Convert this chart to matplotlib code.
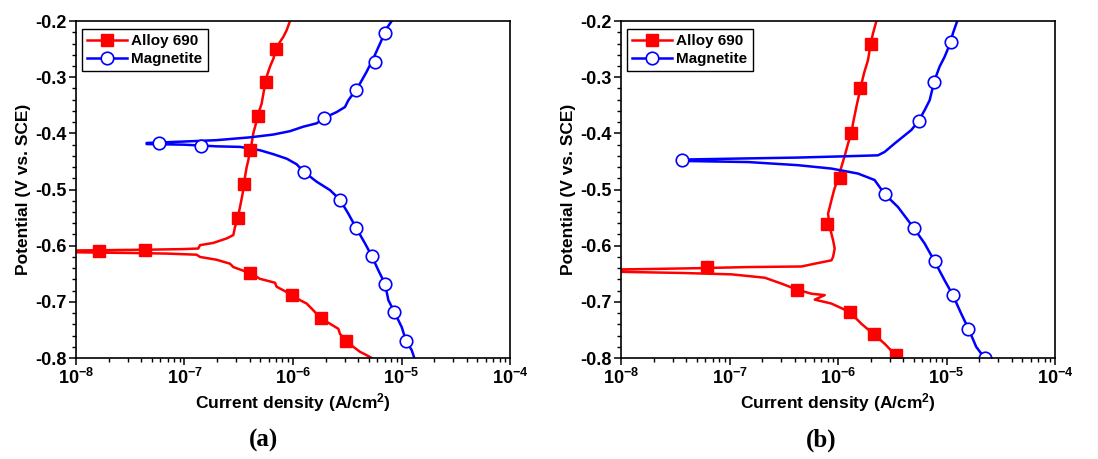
import numpy as np
import matplotlib
matplotlib.use("Agg")
import matplotlib.pyplot as plt
from matplotlib.lines import Line2D
from matplotlib.ticker import MultipleLocator, LogLocator, FixedLocator, FuncFormatter, NullFormatter

plt.rcParams['font.family'] = ['Liberation Sans', 'DejaVu Sans']
plt.rcParams['font.weight'] = 'bold'
plt.rcParams['axes.unicode_minus'] = False
plt.rcParams['mathtext.fontset'] = 'custom'
plt.rcParams['mathtext.rm'] = 'Liberation Sans:bold'
plt.rcParams['mathtext.bf'] = 'Liberation Sans:bold'
plt.rcParams['mathtext.it'] = 'Liberation Sans:bold'

# values: log10(current density, A/cm2) and potential (V vs. SCE)
# ---- panel (a) ----
a_alloy_an_logi = [-6.028, -6.058, -6.089, -6.12, -6.154, -6.181, -6.212, -6.243, -6.273, -6.289,
                   -6.31, -6.32, -6.341, -6.366, -6.381, -6.396, -6.412, -6.427, -6.442, -6.452,
                   -6.464, -6.482, -6.495, -6.507, -6.535, -6.55, -6.611, -6.673, -6.734, -6.857,
                   -6.873, -7.011, -7.318, -7.779, -8.3]
a_alloy_an_E = [-0.2, -0.216, -0.228, -0.237, -0.249, -0.267, -0.281, -0.299, -0.329, -0.347,
                -0.359, -0.369, -0.382, -0.4, -0.418, -0.43, -0.448, -0.46, -0.477, -0.49,
                -0.507, -0.525, -0.537, -0.55, -0.567, -0.581, -0.587, -0.591, -0.595, -0.599,
                -0.605, -0.606, -0.607, -0.608, -0.609]
a_alloy_ca_logi = [-8.3, -7.472, -7.164, -6.888, -6.857, -6.704, -6.581, -6.55, -6.393, -6.304,
                   -6.243, -6.166, -6.151, -6.006, -5.935, -5.874, -5.813, -5.745, -5.659, -5.582,
                   -5.567, -5.512, -5.444, -5.382, -5.321, -5.275]
a_alloy_ca_E = [-0.611, -0.613, -0.614, -0.616, -0.62, -0.625, -0.632, -0.638, -0.649, -0.659,
                -0.662, -0.666, -0.673, -0.688, -0.697, -0.703, -0.715, -0.729, -0.739, -0.748,
                -0.757, -0.769, -0.78, -0.789, -0.795, -0.8]
a_alloy_mk_logi = [-7.785, -7.367, -6.393, -6.006, -5.745, -5.512, -6.507, -6.452, -6.396, -6.32, -6.249, -6.154]
a_alloy_mk_E = [-0.609, -0.608, -0.649, -0.688, -0.729, -0.769, -0.55, -0.49, -0.43, -0.369, -0.309, -0.249]

a_mag_an_logi = [-5.091, -5.137, -5.198, -5.26, -5.321, -5.382, -5.419, -5.49, -5.521, -5.598,
                 -5.659, -5.711, -5.782, -5.905, -6.028, -6.181, -6.396, -6.704, -7.011, -7.349]
a_mag_an_E = [-0.2, -0.213, -0.24, -0.2665, -0.29, -0.311, -0.322, -0.341, -0.353, -0.362,
              -0.3675, -0.372, -0.382, -0.388, -0.396, -0.402, -0.407, -0.412, -0.4145, -0.417]
a_mag_ca_logi = [-7.349, -7.011, -6.704, -6.488, -6.304, -6.181, -6.058, -5.966, -5.899, -5.782,
                 -5.659, -5.567, -5.49, -5.419, -5.336, -5.275, -5.213, -5.152, -5.121, -5.066,
                 -4.998, -4.959, -4.906, -4.882]
a_mag_ca_E = [-0.419, -0.42, -0.423, -0.424, -0.43, -0.437, -0.445, -0.455, -0.4685, -0.486,
              -0.501, -0.518, -0.543, -0.568, -0.596, -0.618, -0.644, -0.668, -0.697, -0.718,
              -0.745, -0.769, -0.786, -0.8]
a_mag_mk_logi = [-7.235, -6.848, -5.899, -5.567, -5.419, -5.275, -5.152, -5.066, -4.959,
                 -5.711, -5.419, -5.241, -5.152]
a_mag_mk_E = [-0.417, -0.422, -0.4685, -0.518, -0.568, -0.618, -0.668, -0.718, -0.769,
              -0.372, -0.322, -0.272, -0.221]

# ---- panel (b) ----
b_alloy_an_logi = [-5.647, -5.678, -5.699, -5.724, -5.761, -5.794, -5.831, -5.862, -5.877, -5.908,
                   -5.933, -5.969, -6.0, -6.037, -6.061, -6.092, -6.077, -6.046, -6.031, -6.046,
                   -6.061, -6.215, -6.337, -6.828, -7.288, -7.748, -8.3]
b_alloy_an_E = [-0.2, -0.222, -0.24, -0.2695, -0.293, -0.32, -0.3525, -0.382, -0.4, -0.418,
                -0.436, -0.4596, -0.48, -0.501, -0.519, -0.543, -0.5665, -0.59, -0.605, -0.62,
                -0.626, -0.632, -0.637, -0.638, -0.64, -0.6415, -0.643]
b_alloy_ca_logi = [-8.3, -7.442, -6.982, -6.675, -6.521, -6.38, -6.245, -6.123, -6.215, -6.061,
                   -5.893, -5.785, -5.669, -5.571, -5.469, -5.417]
b_alloy_ca_E = [-0.6455, -0.6485, -0.651, -0.657, -0.6675, -0.678, -0.6855, -0.688, -0.696, -0.703,
                -0.718, -0.739, -0.758, -0.7745, -0.795, -0.8]
b_alloy_mk_logi = [-7.212, -6.38, -5.893, -5.669, -5.469, -6.098, -5.982, -5.877, -5.794, -5.699]
b_alloy_mk_E = [-0.638, -0.678, -0.718, -0.758, -0.795, -0.561, -0.48, -0.4, -0.32, -0.24]

b_mag_an_logi = [-4.902, -4.942, -4.963, -5.018, -5.064, -5.11, -5.156, -5.202, -5.258, -5.325,
                 -5.402, -5.479, -5.571, -5.632, -5.908, -6.368, -6.982, -7.442]
b_mag_an_E = [-0.2, -0.222, -0.238, -0.2636, -0.281, -0.305, -0.341, -0.3586, -0.378, -0.394,
              -0.406, -0.418, -0.433, -0.439, -0.4406, -0.443, -0.445, -0.4466]
b_mag_ca_logi = [-7.442, -6.828, -6.368, -6.061, -5.816, -5.663, -5.571, -5.448, -5.304, -5.202,
                 -5.11, -5.018, -4.942, -4.865, -4.798, -4.727, -4.65]
b_mag_ca_E = [-0.449, -0.451, -0.4566, -0.4626, -0.4715, -0.483, -0.508, -0.531, -0.568, -0.596,
              -0.628, -0.6616, -0.688, -0.721, -0.748, -0.78, -0.8]
b_mag_mk_logi = [-7.442, -5.571, -5.304, -5.11, -4.942, -4.798, -4.65, -5.258, -5.117, -4.963]
b_mag_mk_E = [-0.448, -0.508, -0.568, -0.628, -0.688, -0.748, -0.8, -0.378, -0.308, -0.238]

series_names = ['Alloy 690', 'Magnetite']
panel_labels = ['(a)', '(b)']
x_ticks = [1e-8, 1e-7, 1e-6, 1e-5, 1e-4]

RED = '#ff0000'
BLUE = '#0000ff'

fig = plt.figure(figsize=(10.98, 4.59), dpi=100)
ax_a = fig.add_axes([0.0692, 0.220, 0.3953, 0.734])
ax_b = fig.add_axes([0.5656, 0.220, 0.3953, 0.734])


def draw(ax, alloy, mag, label, xc):
    an_l, an_e, ca_l, ca_e, mk_l, mk_e = alloy
    ax.plot(10 ** np.concatenate([an_l, ca_l]), np.concatenate([an_e, ca_e]), color=RED, lw=1.8)
    an_l, an_e, ca_l, ca_e, mk2_l, mk2_e = mag
    ax.plot(10 ** np.concatenate([an_l, ca_l]), np.concatenate([an_e, ca_e]), color=BLUE, lw=1.8)
    ax.plot(10 ** np.array(mk_l), mk_e, 's', color=RED, ms=8.5, ls='none')
    ax.plot(10 ** np.array(mk2_l), mk2_e, 'o', mfc='white', mec=BLUE, mew=1.2, ms=9, ls='none')

    ax.set_xscale('log')
    ax.set_xlim(1e-8, 1e-4)
    ax.set_ylim(-0.8, -0.2)
    ax.xaxis.set_major_locator(FixedLocator(x_ticks))
    ax.xaxis.set_major_formatter(FuncFormatter(lambda v, p: r'$\mathbf{10^{%d}}$' % round(np.log10(v))))
    ax.xaxis.set_minor_locator(LogLocator(base=10, subs=np.arange(2, 10)))
    ax.xaxis.set_minor_formatter(NullFormatter())
    ax.yaxis.set_major_locator(MultipleLocator(0.1))
    ax.yaxis.set_minor_locator(MultipleLocator(0.02))
    ax.yaxis.set_major_formatter(FuncFormatter(lambda v, p: '%.1f' % v))
    ax.tick_params(which='major', direction='out', length=5, width=1.1, labelsize=13,
                   top=False, right=False, pad=2)
    ax.tick_params(which='minor', direction='out', length=3, width=1.0, top=False, right=False)
    for lab in ax.get_yticklabels():
        lab.set_fontweight('bold')
    for s in ax.spines.values():
        s.set_linewidth(1.2)

    ax.set_xlabel('Current density (A/cm$^{2}$)', fontsize=12.5, fontweight='bold', labelpad=2)
    ax.set_ylabel('Potential (V vs. SCE)', fontsize=12.5, fontweight='bold', labelpad=3)

    handles = [Line2D([], [], color=RED, lw=1.8, marker='s', ms=8.5),
               Line2D([], [], color=BLUE, lw=1.8, marker='o', mfc='white', mec=BLUE, mew=1.2, ms=9)]
    leg = ax.legend(handles, series_names, loc='upper left', bbox_to_anchor=(0.013, 0.977),
                    borderaxespad=0, fancybox=False, framealpha=1, edgecolor='black',
                    prop={'weight': 'bold', 'size': 11}, handlelength=2.6, handletextpad=0.3,
                    labelspacing=0.25, borderpad=0.35)
    leg.get_frame().set_linewidth(1.0)

    fig.text(xc, 0.04, label, ha='center', va='center', fontsize=18, fontweight='bold',
             family=['Liberation Serif', 'DejaVu Serif'])


draw(ax_a,
     (a_alloy_an_logi, a_alloy_an_E, a_alloy_ca_logi, a_alloy_ca_E, a_alloy_mk_logi, a_alloy_mk_E),
     (a_mag_an_logi, a_mag_an_E, a_mag_ca_logi, a_mag_ca_E, a_mag_mk_logi, a_mag_mk_E),
     panel_labels[0], 263 / 1098)
draw(ax_b,
     (b_alloy_an_logi, b_alloy_an_E, b_alloy_ca_logi, b_alloy_ca_E, b_alloy_mk_logi, b_alloy_mk_E),
     (b_mag_an_logi, b_mag_an_E, b_mag_ca_logi, b_mag_ca_E, b_mag_mk_logi, b_mag_mk_E),
     panel_labels[1], 821 / 1098)

fig.savefig('out.png', dpi=100)
